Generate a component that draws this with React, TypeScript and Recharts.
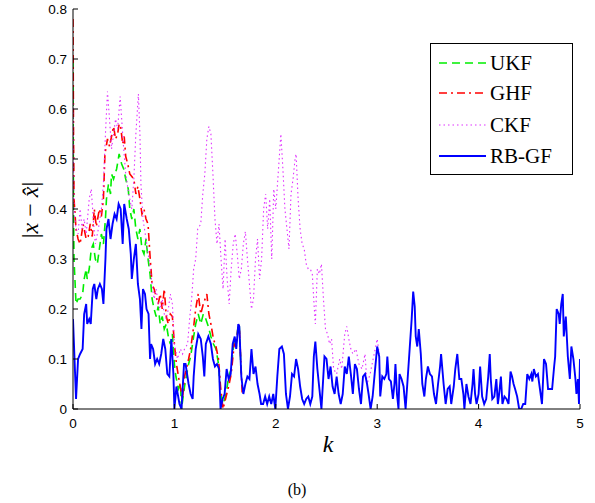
import React from 'react';
import { LineChart, Line, XAxis, YAxis } from 'recharts';

// ---- data (k, |x - x_hat|) ----
const kTicks = [0, 1, 2, 3, 4, 5];
const errTicks = [0, 0.1, 0.2, 0.3, 0.4, 0.5, 0.6, 0.7, 0.8];
const seriesNames = ['UKF', 'GHF', 'CKF', 'RB-GF'];

const ukf: [number, number][] = [
  [0, 0.70], [0.005, 0.40], [0.01, 0.30], [0.03, 0.21], [0.05, 0.22], [0.07, 0.22], [0.095, 0.23], [0.11, 0.26],
  [0.13, 0.28], [0.14, 0.26], [0.16, 0.28], [0.18, 0.32], [0.20, 0.33], [0.22, 0.30], [0.24, 0.29], [0.26, 0.32],
  [0.28, 0.35], [0.30, 0.33], [0.32, 0.38], [0.33, 0.42], [0.35, 0.45], [0.37, 0.43], [0.38, 0.47], [0.40, 0.46],
  [0.43, 0.48], [0.455, 0.51], [0.48, 0.49], [0.50, 0.48], [0.52, 0.46], [0.545, 0.44], [0.56, 0.40], [0.58, 0.38],
  [0.60, 0.40], [0.62, 0.36], [0.64, 0.34], [0.66, 0.36], [0.68, 0.32], [0.70, 0.31], [0.72, 0.34], [0.74, 0.30],
  [0.76, 0.27], [0.78, 0.22], [0.80, 0.20], [0.82, 0.185], [0.84, 0.205], [0.86, 0.17], [0.88, 0.185], [0.90, 0.16],
  [0.92, 0.17], [0.94, 0.145], [0.96, 0.13], [0.98, 0.15], [1.00, 0.09], [1.015, 0.065], [1.04, 0.04], [1.06, 0.05],
  [1.07, 0.0], [1.10, 0.045], [1.14, 0.09], [1.16, 0.105], [1.19, 0.145], [1.21, 0.17], [1.235, 0.19], [1.26, 0.17],
  [1.285, 0.19], [1.31, 0.18], [1.335, 0.165], [1.36, 0.145], [1.385, 0.13], [1.41, 0.12], [1.435, 0.09], [1.455, 0.03],
  [1.48, 0.01], [1.51, 0.03], [1.535, 0.065], [1.56, 0.08], [1.59, 0.14], [1.61, 0.13], [1.63, 0.17], [1.64, 0.165],
  [1.66, 0.065],
];

const ghf: [number, number][] = [
  [0, 0.78], [0.005, 0.55], [0.01, 0.42], [0.03, 0.36], [0.05, 0.34], [0.07, 0.33], [0.10, 0.37], [0.13, 0.34],
  [0.15, 0.345], [0.17, 0.37], [0.19, 0.345], [0.21, 0.40], [0.23, 0.365], [0.26, 0.40], [0.28, 0.385], [0.30, 0.42],
  [0.315, 0.51], [0.34, 0.54], [0.36, 0.525], [0.38, 0.545], [0.40, 0.565], [0.42, 0.54], [0.44, 0.55], [0.455, 0.57],
  [0.47, 0.565], [0.49, 0.53], [0.505, 0.545], [0.52, 0.505], [0.54, 0.49], [0.56, 0.47], [0.58, 0.465], [0.60, 0.46],
  [0.62, 0.43], [0.64, 0.445], [0.66, 0.42], [0.68, 0.39], [0.70, 0.40], [0.72, 0.38], [0.74, 0.37], [0.76, 0.305],
  [0.78, 0.25], [0.80, 0.24], [0.82, 0.225], [0.84, 0.21], [0.86, 0.23], [0.88, 0.20], [0.90, 0.24], [0.92, 0.185],
  [0.94, 0.17], [0.96, 0.19], [0.98, 0.185], [1.00, 0.13], [1.02, 0.09], [1.04, 0.065], [1.08, 0.02], [1.10, 0.065],
  [1.14, 0.10], [1.16, 0.12], [1.19, 0.165], [1.21, 0.20], [1.235, 0.23], [1.26, 0.19], [1.285, 0.21], [1.32, 0.23],
  [1.34, 0.19], [1.36, 0.17], [1.385, 0.14], [1.41, 0.125], [1.435, 0.10], [1.455, 0.045], [1.48, 0.0], [1.51, 0.025],
  [1.535, 0.045], [1.56, 0.07], [1.59, 0.13], [1.61, 0.125], [1.63, 0.17], [1.64, 0.165], [1.67, 0.025],
];

const ckf: [number, number][] = [
  [0, 0.62], [0.01, 0.40], [0.03, 0.36], [0.05, 0.35], [0.07, 0.40], [0.09, 0.36], [0.11, 0.38], [0.13, 0.35],
  [0.16, 0.42], [0.18, 0.44], [0.20, 0.38], [0.22, 0.33], [0.25, 0.36], [0.28, 0.40], [0.30, 0.45], [0.32, 0.55],
  [0.34, 0.635], [0.36, 0.58], [0.38, 0.52], [0.40, 0.55], [0.42, 0.58], [0.44, 0.56], [0.465, 0.625], [0.48, 0.58],
  [0.50, 0.52], [0.52, 0.47], [0.55, 0.43], [0.58, 0.40], [0.60, 0.46], [0.62, 0.55], [0.645, 0.63], [0.66, 0.55],
  [0.67, 0.45], [0.69, 0.38], [0.72, 0.34], [0.75, 0.30], [0.78, 0.25], [0.80, 0.22], [0.82, 0.24], [0.84, 0.21],
  [0.86, 0.20], [0.88, 0.22], [0.90, 0.19], [0.92, 0.18], [0.94, 0.20], [0.96, 0.23], [0.98, 0.21], [1.00, 0.13],
  [1.03, 0.10], [1.06, 0.12], [1.08, 0.11], [1.10, 0.12], [1.13, 0.13], [1.15, 0.18], [1.17, 0.22], [1.19, 0.28],
  [1.21, 0.30], [1.23, 0.36], [1.26, 0.37], [1.28, 0.43], [1.30, 0.47], [1.32, 0.54], [1.34, 0.565], [1.36, 0.55],
  [1.38, 0.47], [1.40, 0.38], [1.42, 0.33], [1.44, 0.37], [1.46, 0.30], [1.48, 0.24], [1.50, 0.34], [1.52, 0.26],
  [1.54, 0.21], [1.56, 0.28], [1.58, 0.33], [1.60, 0.35], [1.62, 0.31], [1.64, 0.26], [1.66, 0.28], [1.68, 0.33],
  [1.70, 0.355], [1.72, 0.30], [1.74, 0.25], [1.76, 0.20], [1.78, 0.22], [1.80, 0.30], [1.82, 0.34], [1.84, 0.26],
  [1.86, 0.30], [1.88, 0.40], [1.90, 0.43], [1.92, 0.36], [1.94, 0.42], [1.96, 0.30], [1.98, 0.44], [2.00, 0.40],
  [2.02, 0.46], [2.04, 0.52], [2.05, 0.55], [2.07, 0.48], [2.09, 0.40], [2.11, 0.36], [2.13, 0.32], [2.15, 0.43],
  [2.17, 0.46], [2.19, 0.50], [2.20, 0.51], [2.22, 0.42], [2.24, 0.36], [2.26, 0.33], [2.28, 0.32], [2.30, 0.29],
  [2.32, 0.28], [2.34, 0.28], [2.36, 0.27], [2.38, 0.20], [2.39, 0.17], [2.41, 0.28], [2.43, 0.27], [2.45, 0.29],
  [2.47, 0.22], [2.49, 0.16], [2.51, 0.15], [2.53, 0.13], [2.55, 0.14], [2.57, 0.08], [2.60, 0.07], [2.63, 0.10],
  [2.65, 0.08], [2.68, 0.15], [2.70, 0.165], [2.72, 0.14], [2.74, 0.12], [2.76, 0.11], [2.79, 0.12], [2.82, 0.09],
  [2.85, 0.08], [2.88, 0.11], [2.90, 0.05], [2.93, 0.07], [2.96, 0.10], [3.00, 0.14], [3.02, 0.11],
];

const rbgf: [number, number][] = [
  [0, 0.18], [0.03, 0.02], [0.05, 0.10], [0.07, 0.11], [0.095, 0.12], [0.11, 0.19], [0.13, 0.21], [0.14, 0.17],
  [0.16, 0.18], [0.175, 0.17], [0.195, 0.24], [0.21, 0.25], [0.23, 0.22], [0.245, 0.24], [0.265, 0.25], [0.285, 0.24],
  [0.30, 0.21], [0.32, 0.30], [0.33, 0.36], [0.35, 0.38], [0.37, 0.34], [0.39, 0.37], [0.41, 0.39], [0.43, 0.38],
  [0.45, 0.41], [0.47, 0.40], [0.49, 0.33], [0.505, 0.41], [0.53, 0.38], [0.55, 0.36], [0.57, 0.31], [0.58, 0.26],
  [0.60, 0.30], [0.62, 0.33], [0.64, 0.25], [0.66, 0.22], [0.675, 0.16], [0.69, 0.24], [0.71, 0.23], [0.725, 0.20],
  [0.745, 0.19], [0.76, 0.10], [0.77, 0.13], [0.79, 0.12], [0.81, 0.09], [0.83, 0.10], [0.85, 0.09], [0.87, 0.11],
  [0.89, 0.14], [0.91, 0.12], [0.93, 0.07], [0.95, 0.065], [0.97, 0.14], [0.99, 0.07], [1.00, 0.0], [1.02, 0.045],
  [1.05, 0.01], [1.07, 0.0], [1.095, 0.09], [1.11, 0.09], [1.14, 0.05], [1.16, 0.03], [1.18, 0.02], [1.19, 0.065],
  [1.21, 0.12], [1.235, 0.15], [1.26, 0.14], [1.28, 0.105], [1.295, 0.065], [1.31, 0.13], [1.335, 0.145], [1.36, 0.13],
  [1.38, 0.10], [1.40, 0.085], [1.42, 0.09], [1.44, 0.08], [1.455, 0.0], [1.475, 0.02], [1.495, 0.03], [1.515, 0.08],
  [1.535, 0.06], [1.555, 0.07], [1.575, 0.13], [1.595, 0.145], [1.61, 0.12], [1.63, 0.17], [1.64, 0.165], [1.66, 0.065],
  [1.68, 0.03], [1.70, 0.05], [1.72, 0.065], [1.74, 0.06], [1.76, 0.12], [1.78, 0.07], [1.80, 0.085], [1.82, 0.05],
  [1.84, 0.03], [1.855, 0.01], [1.875, 0.01], [1.895, 0.025], [1.915, 0.01], [1.935, 0.025], [1.955, 0.01], [1.975, 0.03],
  [1.995, 0.0], [2.015, 0.065], [2.035, 0.12], [2.06, 0.125], [2.08, 0.11], [2.10, 0.03], [2.12, 0.0], [2.14, 0.025],
  [2.16, 0.07], [2.18, 0.065], [2.20, 0.10], [2.22, 0.08], [2.24, 0.045], [2.26, 0.02], [2.28, 0.01], [2.30, 0.02],
  [2.32, 0.025], [2.34, 0.01], [2.36, 0.025], [2.375, 0.105], [2.39, 0.135], [2.41, 0.08], [2.43, 0.04], [2.45, 0.0],
  [2.47, 0.07], [2.48, 0.105], [2.50, 0.10], [2.52, 0.06], [2.54, 0.085], [2.56, 0.045], [2.58, 0.03], [2.60, 0.065],
  [2.62, 0.03], [2.64, 0.01], [2.66, 0.03], [2.68, 0.085], [2.70, 0.07], [2.72, 0.105], [2.74, 0.07], [2.76, 0.03],
  [2.78, 0.09], [2.80, 0.08], [2.82, 0.04], [2.84, 0.01], [2.86, 0.065], [2.88, 0.07], [2.90, 0.05], [2.915, 0.03],
  [2.935, 0.0], [2.955, 0.025], [2.975, 0.07], [3.00, 0.125], [3.02, 0.105], [3.03, 0.025], [3.05, 0.065], [3.07, 0.06],
  [3.09, 0.07], [3.10, 0.105], [3.115, 0.06], [3.135, 0.055], [3.155, 0.02], [3.17, 0.05], [3.18, 0.09], [3.195, 0.03],
  [3.21, 0.0], [3.22, 0.07], [3.24, 0.06], [3.26, 0.045], [3.28, 0.0], [3.30, 0.06], [3.32, 0.12], [3.34, 0.18],
  [3.355, 0.235], [3.37, 0.205], [3.38, 0.145], [3.395, 0.125], [3.41, 0.16], [3.43, 0.11], [3.445, 0.05], [3.465, 0.025],
  [3.48, 0.06], [3.50, 0.085], [3.52, 0.07], [3.54, 0.065], [3.56, 0.03], [3.58, 0.01], [3.60, 0.05], [3.62, 0.085],
  [3.63, 0.11], [3.655, 0.05], [3.675, 0.01], [3.695, 0.04], [3.715, 0.045], [3.73, 0.01], [3.755, 0.045], [3.77, 0.08],
  [3.79, 0.11], [3.81, 0.06], [3.83, 0.06], [3.85, 0.03], [3.86, 0.0], [3.88, 0.05], [3.90, 0.025], [3.92, 0.01],
  [3.94, 0.05], [3.95, 0.08], [3.965, 0.03], [3.98, 0.01], [4.00, 0.03], [4.015, 0.085], [4.035, 0.025], [4.055, 0.01],
  [4.075, 0.02], [4.095, 0.065], [4.11, 0.11], [4.12, 0.06], [4.135, 0.02], [4.155, 0.025], [4.175, 0.06], [4.19, 0.01],
  [4.20, 0.025], [4.22, 0.065], [4.235, 0.01], [4.255, 0.025], [4.275, 0.02], [4.295, 0.01], [4.315, 0.075], [4.33, 0.065],
  [4.345, 0.05], [4.36, 0.04], [4.38, 0.025], [4.40, 0.0], [4.42, 0.0], [4.44, 0.01], [4.46, 0.01], [4.48, 0.07],
  [4.50, 0.06], [4.52, 0.07], [4.53, 0.055], [4.545, 0.08], [4.565, 0.065], [4.585, 0.07], [4.605, 0.04], [4.625, 0.01],
  [4.645, 0.10], [4.665, 0.09], [4.685, 0.04], [4.705, 0.04], [4.725, 0.04], [4.745, 0.085], [4.755, 0.105], [4.77, 0.20],
  [4.79, 0.19], [4.80, 0.17], [4.815, 0.21], [4.83, 0.23], [4.84, 0.145], [4.86, 0.185], [4.88, 0.105], [4.90, 0.06],
  [4.915, 0.125], [4.935, 0.10], [4.955, 0.06], [4.965, 0.03], [4.98, 0.06], [4.99, 0.01], [5.00, 0.10],
];

const toRows = (pts: [number, number][]) => pts.map(([k, v]) => ({ k, v }));

const styles = [
  { color: '#00ee00', dash: '8 5', width: 1.6 },
  { color: '#ff0000', dash: '8 4 2 4', width: 1.6 },
  { color: '#e030ff', dash: '1.5 3', width: 1.1 },
  { color: '#0000ff', dash: undefined as string | undefined, width: 1.9 },
];
const allSeries = [ukf, ghf, ckf, rbgf];

const serif = "'Liberation Serif', 'Times New Roman', serif";
const tickFont = { fontSize: 13.5, fill: '#000', fontFamily: "'Liberation Sans', Arial, sans-serif" };

export default function App() {
  return (
    <div style={{ position: 'absolute', left: 0, top: 0, width: 595, height: 503, background: '#fff' }}>
      <LineChart width={595} height={503} margin={{ top: 9, right: 15, bottom: 64, left: 33 }}>
        <XAxis
          xAxisId="b"
          type="number"
          dataKey="k"
          domain={[0, 5]}
          ticks={kTicks}
          allowDataOverflow
          height={30}
          tickSize={-5}
          tickMargin={14}
          tick={tickFont}
          stroke="#000"
          tickLine={{ stroke: '#000' }}
        />
        <XAxis
          xAxisId="t"
          orientation="top"
          type="number"
          dataKey="k"
          domain={[0, 5]}
          ticks={kTicks}
          allowDataOverflow
          height={0}
          tickSize={-5}
          tick={false}
          stroke="#000"
        />
        <YAxis
          yAxisId="l"
          type="number"
          domain={[0, 0.8]}
          ticks={errTicks}
          allowDataOverflow
          width={40}
          tickSize={-5}
          tickMargin={11}
          tick={tickFont}
          stroke="#000"
        />
        <YAxis
          yAxisId="r"
          orientation="right"
          type="number"
          domain={[0, 0.8]}
          ticks={errTicks}
          allowDataOverflow
          width={0}
          tickSize={-5}
          tick={false}
          stroke="#000"
        />
        {allSeries.map((s, i) => (
          <Line
            key={seriesNames[i]}
            xAxisId="b"
            yAxisId="l"
            data={toRows(s)}
            dataKey="v"
            name={seriesNames[i]}
            type="linear"
            stroke={styles[i].color}
            strokeWidth={styles[i].width}
            strokeDasharray={styles[i].dash}
            dot={false}
            activeDot={false}
            isAnimationActive={false}
          />
        ))}
      </LineChart>
      <svg width={595} height={503} style={{ position: 'absolute', left: 0, top: 0, pointerEvents: 'none' }}>
        <g>
          <rect x={430.5} y={43.5} width={142} height={131} fill="#fff" stroke="#000" strokeWidth={1} />
          {seriesNames.map((n, i) => {
            const y = [63, 93, 125, 156][i];
            return (
              <g key={n}>
                <line x1={439} x2={486} y1={y} y2={y} stroke={styles[i].color} strokeWidth={styles[i].width}
                  strokeDasharray={styles[i].dash} />
                <text x={490} y={y + 7} style={{ fontSize: 21, fontFamily: serif }} fill="#000">{n}</text>
              </g>
            );
          })}
        </g>
        <text x={328} y={452} textAnchor="middle" style={{ fontSize: 24, fontStyle: 'italic', fontFamily: serif }}
          fill="#000">k</text>
        <text transform="translate(38,210) rotate(-90)" textAnchor="middle" style={{ fontSize: 24, fontFamily: serif }}
          fill="#000">
          |<tspan style={{ fontStyle: 'italic' }}>x</tspan>{'  −  '}<tspan style={{ fontStyle: 'italic' }}>x̂</tspan>|
        </text>
        <text x={297} y={495} textAnchor="middle" style={{ fontSize: 16, fontFamily: serif }} fill="#000">(b)</text>
      </svg>
    </div>
  );
}
